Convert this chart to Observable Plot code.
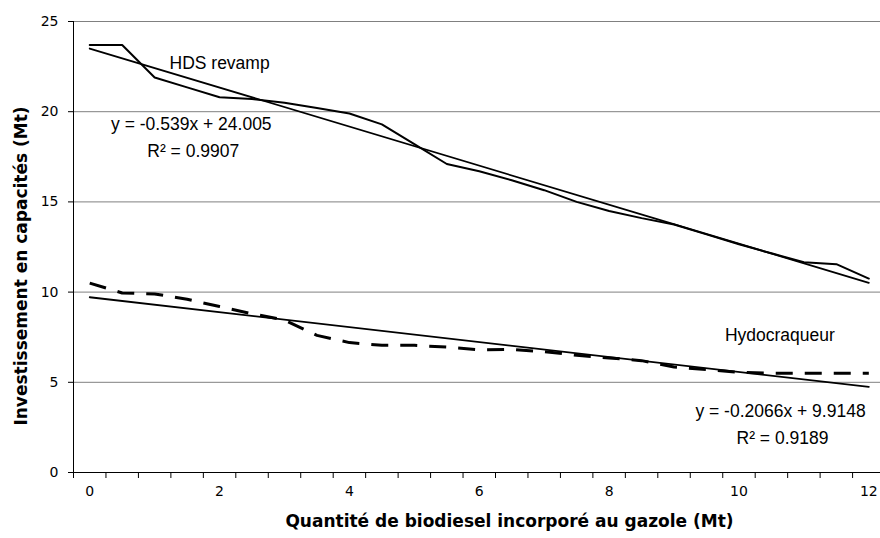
<!DOCTYPE html>
<html>
<head>
<meta charset="utf-8">
<script src="https://cdn.jsdelivr.net/npm/d3@7"></script>
<script src="https://cdn.jsdelivr.net/npm/@observablehq/plot@0.6"></script>
<style>
  html, body { margin: 0; padding: 0; background: white; }
  #chart { width: 880px; height: 538px; overflow: hidden; }
</style>
</head>
<body>
<div id="chart"></div>
<script>
// Categories: quantity of biodiesel (Mt)
const xValues = [0, 0.5, 1, 1.5, 2, 2.5, 3, 3.5, 4, 4.5, 5, 5.5, 6, 6.5, 7, 7.5, 8, 8.5, 9, 9.5, 10, 10.5, 11, 11.5, 12];
// Series: investment in capacities (Mt)
const hdsRevamp = [23.7, 23.7, 21.9, 21.35, 20.8, 20.7, 20.5, 20.2, 19.9, 19.3, 18.2, 17.1, 16.7, 16.2, 15.65, 15.0, 14.5, 14.1, 13.75, 13.2, 12.65, 12.15, 11.65, 11.55, 10.75];
const hydrocraqueur = [10.5, 9.95, 9.9, 9.6, 9.2, 8.8, 8.45, 7.6, 7.2, 7.05, 7.05, 6.95, 6.8, 6.82, 6.7, 6.5, 6.35, 6.2, 5.85, 5.7, 5.55, 5.5, 5.5, 5.5, 5.5];
// Tick labels
const xTickLabels = [0, 2, 4, 6, 8, 10, 12];
const yTickLabels = [0, 5, 10, 15, 20, 25];
// Texts
const seriesNames = ["HDS revamp", "Hydocraqueur"];
const equations = ["y = -0.539x + 24.005", "y = -0.2066x + 9.9148"];
const r2Texts = ["R\u00B2 = 0.9907", "R\u00B2 = 0.9189"];
const xTitle = "Quantité de biodiesel incorporé au gazole (Mt)";
const yTitle = "Investissement en capacités (Mt)";

const rows = xValues.map((x, i) => ({x, hds: hdsRevamp[i], hyd: hydrocraqueur[i]}));
const boundaries = xValues.map(v => v - 0.25);

const annFont = {fontFamily: "Liberation Sans", fontSize: 17.5, fill: "black"};

const chart = Plot.plot({
  width: 880,
  height: 538,
  marginLeft: 73,
  marginRight: 0,
  marginTop: 21,
  marginBottom: 66,
  x: {domain: [-0.25, 12.18]},
  y: {domain: [0, 25]},
  style: {fontFamily: "Liberation Sans", background: "white", color: "black"},
  marks: [
    Plot.ruleY(yTickLabels.filter(v => v > 0), {stroke: "#808080", strokeWidth: 1}),
    Plot.axisY(yTickLabels, {tickSize: 5, tickPadding: 10, fontSize: 14, fontFamily: "DejaVu Sans", label: null, stroke: "black"}),
    Plot.axisX(boundaries, {tickSize: 6, tickFormat: () => "", label: null, stroke: "black"}),
    Plot.axisX(xTickLabels, {tickSize: 0, tickPadding: 14, fontSize: 14, fontFamily: "DejaVu Sans", label: null}),
    Plot.ruleX([-0.25], {stroke: "black", strokeWidth: 1}),
    Plot.ruleY([0], {stroke: "black", strokeWidth: 1}),
    Plot.linearRegressionY(rows, {x: "x", y: "hds", ci: 0, stroke: "black", strokeWidth: 1.8}),
    Plot.linearRegressionY(rows, {x: "x", y: "hyd", ci: 0, stroke: "black", strokeWidth: 1.8}),
    Plot.line(rows, {x: "x", y: "hds", stroke: "black", strokeWidth: 2, strokeLinejoin: "miter"}),
    Plot.line(rows, {x: "x", y: "hyd", stroke: "black", strokeWidth: 3, strokeDasharray: "17,12", strokeLinecap: "butt", strokeLinejoin: "miter"}),
    Plot.text([seriesNames[0]], {text: d => d, x: 2.0, y: 22.68, ...annFont}),
    Plot.text([equations[0]], {text: d => d, x: 1.565, y: 19.3, ...annFont}),
    Plot.text([r2Texts[0]], {text: d => d, x: 1.594, y: 17.82, ...annFont}),
    Plot.text([seriesNames[1]], {text: d => d, x: 10.63, y: 7.62, ...annFont}),
    Plot.text([equations[1]], {text: d => d, x: 10.64, y: 3.36, ...annFont}),
    Plot.text([r2Texts[1]], {text: d => d, x: 10.67, y: 1.89, ...annFont}),
    Plot.text([xTitle], {text: d => d, frameAnchor: "bottom", textAnchor: "middle", lineAnchor: "middle", dx: 32.5, dy: 49, fontFamily: "DejaVu Sans", fontWeight: "bold", fontSize: 17, fill: "black"}),
    Plot.text([yTitle], {text: d => d, frameAnchor: "left", textAnchor: "middle", lineAnchor: "middle", dx: -51.5, dy: 19, rotate: -90, fontFamily: "DejaVu Sans", fontWeight: "bold", fontSize: 17, fill: "black"})
  ]
});
document.getElementById("chart").appendChild(chart);
</script>
</body>
</html>
